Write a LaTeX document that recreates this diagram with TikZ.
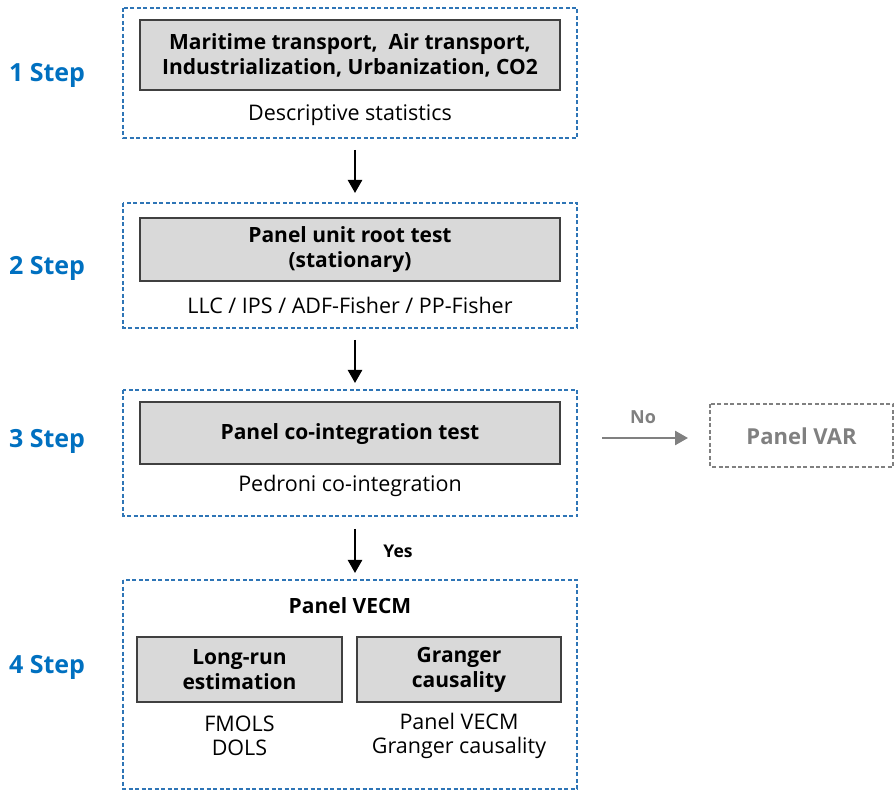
\documentclass[tikz,border=0pt]{standalone}
\usepackage{fontspec}
\setmainfont{Open Sans}
\usetikzlibrary{arrows.meta}
\definecolor{stepblue}{HTML}{0070C0}
\definecolor{dashblue}{HTML}{2E75B6}
\definecolor{boxgray}{HTML}{D9D9D9}
\definecolor{edgegray}{HTML}{404040}
\definecolor{vargray}{HTML}{808080}
\tikzset{
  stage/.style={draw=dashblue, line width=1.5pt, dash pattern=on 4pt off 2.5pt},
  graybox/.style={draw=edgegray, fill=boxgray, line width=1.2pt},
  steplabel/.style={text=stepblue, font=\bfseries\fontsize{25}{28}\selectfont},
  boldtxt/.style={font=\bfseries\fontsize{21}{25}\selectfont, align=center},
  plaintxt/.style={font=\fontsize{21.5}{24}\selectfont, align=center},
  flow/.style={line width=2.5pt, -{Triangle[length=13pt,width=14pt]}},
}
\begin{document}
\begin{tikzpicture}[x=1pt,y=-1pt]
\useasboundingbox (0,0) rectangle (895,791);
% stage frames
\draw[stage] (123,8) rectangle (577,138);
\draw[stage] (123,203) rectangle (577,328);
\draw[stage] (123,390) rectangle (577,516);
\draw[stage] (123,580) rectangle (577,789);
% step labels
\node[steplabel] (s1) at (47,75) {1 Step};
\node[steplabel] (s2) at (47,268) {2 Step};
\node[steplabel] (s3) at (47,441) {3 Step};
\node[steplabel] (s4) at (47,667) {4 Step};
% step 1
\draw[graybox] (140,20) rectangle (560,90);
\node[boldtxt] (b1) at (350,55) {Maritime transport,~ Air transport,\\Industrialization, Urbanization, CO2};
\node[plaintxt] (d1) at (350,115) {Descriptive statistics};
% step 2
\draw[graybox] (140,218) rectangle (560,281);
\node[boldtxt] (b2) at (350,250) {Panel unit root test\\(stationary)};
\node[plaintxt] (d2) at (350,305) {LLC / IPS / ADF-Fisher / PP-Fisher};
% step 3
\draw[graybox] (140,402) rectangle (560,464);
\node[boldtxt] (b3) at (350,434) {Panel co-integration test};
\node[plaintxt] (d3) at (350,486) {Pedroni co-integration};
% step 4
\node[boldtxt] (vecm) at (350,606) {Panel VECM};
\draw[graybox] (137,637) rectangle (342,702);
\node[boldtxt] (lr) at (239.5,670) {Long-run\\estimation};
\draw[graybox] (357,637) rectangle (561,702);
\node[boldtxt] (gc) at (459,670) {Granger\\causality};
\node[plaintxt] (fm) at (239.5,736) {FMOLS\\DOLS};
\node[plaintxt] (pv) at (459,736) {Panel VECM\\Granger causality};
% panel VAR
\draw[draw=vargray, line width=1.5pt, dash pattern=on 4pt off 2.5pt] (710,404) rectangle (893,467);
\node[font=\bfseries\fontsize{22}{24}\selectfont, text=vargray] (var) at (801.5,436) {Panel VAR};
% connectors
\coordinate (a1s) at (355,150); \coordinate (a1e) at (355,193);
\coordinate (a2s) at (355,340); \coordinate (a2e) at (355,383);
\coordinate (a3s) at (355,529); \coordinate (a3e) at (355,573);
\coordinate (nos) at (602,438); \coordinate (noe) at (688,438);
\draw[flow] (a1s) -- (a1e);
\draw[flow] (a2s) -- (a2e);
\draw[flow] (a3s) -- (a3e);
\node[font=\bfseries\fontsize{17.5}{20}\selectfont] (yes) at (398,551) {Yes};
\draw[line width=2.5pt, draw=vargray, -{Triangle[length=13pt,width=14pt]}] (nos) -- (noe);
\node[font=\bfseries\fontsize{18}{20}\selectfont, text=vargray] (no) at (643,417) {No};
\end{tikzpicture}
\end{document}
